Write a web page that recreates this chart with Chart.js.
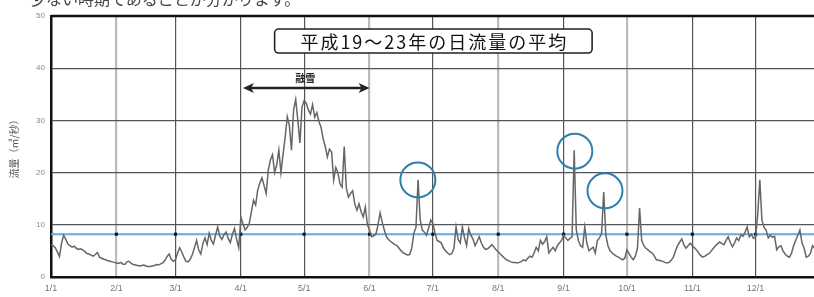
<!DOCTYPE html>
<html>
<head>
<meta charset="utf-8">
<script src="https://cdn.jsdelivr.net/npm/chart.js@4.4.0/dist/chart.umd.min.js"></script>
<style>
    html, body { margin: 0; padding: 0; background: #fff; overflow: hidden; }
    #wrap { position: relative; width: 814px; height: 297px; overflow: hidden; }
    #chart { position: absolute; left: 0; top: 0; }
    #lead { position: absolute; left: 30px; top: -14px; font: 16px 'Noto Sans CJK JP'; color: #444; white-space: nowrap; }
</style>
</head>
<body>
<div id="wrap">
    <canvas id="chart" width="830" height="297" style="width:830px;height:297px"></canvas>
    <div id="lead">少ない時期であることが分かります。</div>
</div>
<script>
// tick labels on the x axis and the day-of-year where each month starts
const monthLabels = ['1/1', '2/1', '3/1', '4/1', '5/1', '6/1', '7/1', '8/1', '9/1', '10/1', '11/1', '12/1'];
const monthStarts = [0, 31, 59, 90, 120, 151, 181, 212, 243, 273, 304, 334];
const yTicks = [0, 10, 20, 30, 40, 50];

// daily flow (m3/s), one row per month
const janFlow = [6.2, 6.0, 5.6, 4.8, 3.9, 6.5, 8.0, 7.2, 6.3, 6.0, 5.7, 5.9, 5.5, 5.3, 5.4, 5.2, 4.9, 4.5, 4.4, 4.2, 4.0, 4.3, 4.7, 3.8, 3.6, 3.4, 3.3, 3.1, 3.0, 2.9, 2.8];
const febFlow = [2.7, 2.6, 2.8, 2.5, 2.4, 2.9, 3.0, 2.6, 2.4, 2.3, 2.2, 2.1, 2.2, 2.3, 2.1, 2.0, 2.0, 2.1, 2.2, 2.4, 2.3, 2.5, 2.7, 3.2, 3.9, 4.4, 3.4, 3.0];
const marFlow = [3.3, 4.6, 5.6, 4.8, 3.8, 3.0, 2.9, 3.4, 4.3, 5.6, 7.0, 5.2, 4.4, 6.4, 7.5, 6.2, 8.4, 7.0, 6.3, 8.0, 9.6, 7.8, 7.2, 8.1, 8.6, 7.4, 6.6, 8.2, 9.3, 7.2, 5.6];
const aprFlow = [11.5, 10.2, 9.0, 9.5, 10.3, 12.5, 14.7, 13.8, 16.7, 18.0, 19.0, 17.5, 16.0, 20.5, 22.4, 23.4, 20.0, 21.5, 24.3, 20.0, 23.5, 26.8, 30.7, 29.0, 24.3, 32.0, 34.0, 30.0, 25.7, 32.6];
const mayFlow = [33.8, 33.3, 32.0, 31.2, 33.0, 30.6, 31.5, 29.8, 28.7, 26.5, 25.0, 23.0, 24.5, 24.0, 18.6, 21.0, 20.0, 17.8, 17.2, 25.0, 17.0, 15.3, 16.0, 16.5, 14.0, 12.8, 14.0, 12.5, 11.5, 13.4, 10.0];
const junFlow = [9.0, 7.7, 7.9, 8.2, 10.0, 12.3, 10.5, 9.0, 7.7, 7.2, 6.8, 6.5, 6.2, 6.0, 5.5, 5.0, 4.6, 4.4, 4.2, 4.3, 5.5, 8.4, 9.5, 18.6, 11.0, 9.0, 8.6, 8.0, 9.4, 10.9];
const julFlow = [10.3, 8.5, 7.0, 6.8, 6.5, 5.6, 5.0, 4.6, 4.3, 4.5, 5.5, 9.6, 7.2, 6.5, 9.6, 7.5, 6.0, 9.3, 8.0, 7.3, 6.0, 6.8, 7.7, 6.5, 5.7, 5.3, 5.4, 5.8, 6.2, 5.7, 5.2];
const augFlow = [4.8, 4.4, 4.0, 3.6, 3.3, 3.1, 2.9, 2.8, 2.8, 2.7, 2.8, 3.0, 3.3, 3.1, 3.6, 4.0, 3.8, 4.6, 5.7, 5.0, 7.0, 6.3, 6.8, 7.7, 4.6, 5.2, 5.7, 5.0, 6.0, 6.5, 7.0];
const sepFlow = [8.0, 7.5, 7.0, 7.4, 7.7, 24.3, 9.0, 7.0, 6.0, 5.7, 9.6, 6.5, 5.0, 5.4, 5.7, 4.6, 7.0, 7.5, 8.4, 16.3, 8.0, 6.0, 5.0, 4.6, 4.3, 4.0, 3.8, 3.5, 3.3, 3.6];
const octFlow = [5.2, 4.5, 3.8, 3.3, 4.0, 5.5, 13.2, 7.0, 6.0, 5.5, 5.2, 4.8, 4.6, 4.0, 3.3, 3.2, 3.1, 3.0, 2.8, 2.7, 2.8, 3.2, 3.8, 5.0, 6.0, 6.7, 7.3, 6.2, 5.5, 6.0, 6.5];
const novFlow = [6.0, 5.6, 5.2, 4.6, 4.1, 3.8, 4.0, 4.3, 4.5, 5.0, 5.5, 6.0, 6.4, 6.7, 6.4, 6.2, 7.0, 7.7, 6.6, 5.8, 6.5, 7.5, 7.0, 8.1, 7.8, 8.6, 9.6, 7.7, 8.2, 7.4];
const decFlow = [7.7, 12.0, 18.6, 10.9, 9.5, 9.0, 7.5, 8.0, 7.6, 7.8, 5.2, 5.8, 6.0, 5.0, 4.4, 4.0, 3.8, 4.5, 6.0, 7.0, 8.0, 9.0, 6.5, 5.5, 3.8, 4.0, 4.5, 6.0, 5.5, 5.2, 5.0];

// average of daily flow (H19-H23)
const averageFlow = 8.2;

const dailyFlow = [].concat(janFlow, febFlow, marFlow, aprFlow, mayFlow, junFlow,
    julFlow, augFlow, sepFlow, octFlow, novFlow, decFlow);
const flowPoints = dailyFlow.map((v, i) => ({ x: i, y: v }));
const avgPoints = monthStarts.concat([365]).map(d => ({ x: d, y: averageFlow }));

// light / dark month grid lines, as in the original scan
const lightMonths = [1, 5, 7, 9];

// chart frame + notes (box, arrow, circles)
const notes = {
    id: 'notes',
    afterDatasetsDraw(chart) {
        const { ctx, chartArea, scales: { x, y } } = chart;
        ctx.save();

        // top frame line
        ctx.strokeStyle = '#111';
        ctx.lineWidth = 2.5;
        ctx.beginPath();
        ctx.moveTo(chartArea.left, chartArea.top);
        ctx.lineTo(chartArea.right, chartArea.top);
        ctx.stroke();

        // title box
        const bx0 = x.getPixelForValue(106), bx1 = x.getPixelForValue(256.5);
        const by0 = y.getPixelForValue(47.5), by1 = y.getPixelForValue(42.9);
        ctx.beginPath();
        ctx.roundRect(bx0, by0, bx1 - bx0, by1 - by0, 4);
        ctx.fillStyle = '#fff';
        ctx.fill();
        ctx.strokeStyle = '#222';
        ctx.lineWidth = 1.6;
        ctx.stroke();
        ctx.fillStyle = '#111';
        ctx.font = "18px 'Noto Sans CJK JP'";
        ctx.letterSpacing = '2px';
        ctx.textAlign = 'center';
        ctx.textBaseline = 'middle';
        ctx.fillText('平成19～23年の日流量の平均', (bx0 + bx1) / 2 + 1, (by0 + by1) / 2 + 1);
        ctx.letterSpacing = '0px';

        // snowmelt arrow
        const ax0 = x.getPixelForValue(91), ax1 = x.getPixelForValue(151);
        const ay = y.getPixelForValue(36.2);
        ctx.strokeStyle = '#222';
        ctx.fillStyle = '#222';
        ctx.lineWidth = 2.5;
        ctx.beginPath();
        ctx.moveTo(ax0 + 6, ay);
        ctx.lineTo(ax1 - 6, ay);
        ctx.stroke();
        [[ax0, 1], [ax1, -1]].forEach(([px, dir]) => {
            ctx.beginPath();
            ctx.moveTo(px, ay);
            ctx.lineTo(px + dir * 11, ay - 5);
            ctx.lineTo(px + dir * 8, ay);
            ctx.lineTo(px + dir * 11, ay + 5);
            ctx.closePath();
            ctx.fill();
        });
        ctx.font = "bold 10px 'Noto Sans CJK JP'";
        ctx.fillText('融雪', x.getPixelForValue(120.5), y.getPixelForValue(38.1));

        // circles around the peaks
        ctx.strokeStyle = '#2f7fae';
        ctx.lineWidth = 2;
        [[173.9, 18.6], [248.3, 24.1], [262.6, 16.5]].forEach(([d, v]) => {
            ctx.beginPath();
            ctx.arc(x.getPixelForValue(d), y.getPixelForValue(v), 17.5, 0, Math.PI * 2);
            ctx.stroke();
        });
        ctx.restore();
    }
};

const ctx = document.getElementById('chart').getContext('2d');
const flowChart = new Chart(ctx, {
    type: 'line',
    data: {
        datasets: [{
            label: '日流量',
            data: flowPoints,
            borderColor: '#666',
            borderWidth: 1.5,
            pointRadius: 0,
            tension: 0,
            order: 0
        }, {
            label: '平均',
            data: avgPoints,
            borderColor: '#6aa6d6',
            borderWidth: 2,
            pointStyle: 'rect',
            pointRadius: c => (c.dataIndex > 0 && c.dataIndex < monthStarts.length) ? 2.2 : 0,
            pointBackgroundColor: '#111',
            pointBorderWidth: 0,
            order: 1
        }]
    },
    options: {
        responsive: false,
        animation: false,
        layout: { padding: { top: 16, right: 9, left: 0, bottom: 0 } },
        plugins: {
            legend: { display: false },
            tooltip: { enabled: false }
        },
        scales: {
            x: {
                type: 'linear',
                min: 0,
                max: 365,
                afterBuildTicks: s => { s.ticks = monthStarts.map(v => ({ value: v })); },
                afterFit: s => { s.height = 20; },
                ticks: {
                    callback: v => monthLabels[monthStarts.indexOf(v)],
                    color: '#777',
                    font: { family: 'Liberation Sans', size: 9 },
                    padding: 6,
                    maxRotation: 0,
                    autoSkip: false
                },
                grid: {
                    drawTicks: false,
                    color: c => lightMonths.includes(c.index) ? 'rgba(175,175,175,0.85)' : '#555',
                    lineWidth: c => lightMonths.includes(c.index) ? 2.2 : 1.2
                },
                border: { display: true, color: '#111', width: 2.5 }
            },
            y: {
                min: 0,
                max: 50,
                afterBuildTicks: s => { s.ticks = yTicks.map(v => ({ value: v })); },
                afterFit: s => { s.width = 51; },
                ticks: {
                    color: '#888',
                    font: { family: 'Liberation Sans', size: 8 },
                    padding: 6
                },
                grid: {
                    drawTicks: false,
                    color: c => c.tick.value === 0 ? 'rgba(0,0,0,0)' : '#555',
                    lineWidth: 1.2
                },
                border: { display: true, color: '#111', width: 2.5 },
                title: {
                    display: true,
                    text: '流量（㎥/秒）',
                    color: '#555',
                    font: { family: 'Noto Sans CJK JP', size: 10 },
                    padding: { top: 8, bottom: 0 }
                }
            }
        }
    },
    plugins: [notes]
});
</script>
</body>
</html>
